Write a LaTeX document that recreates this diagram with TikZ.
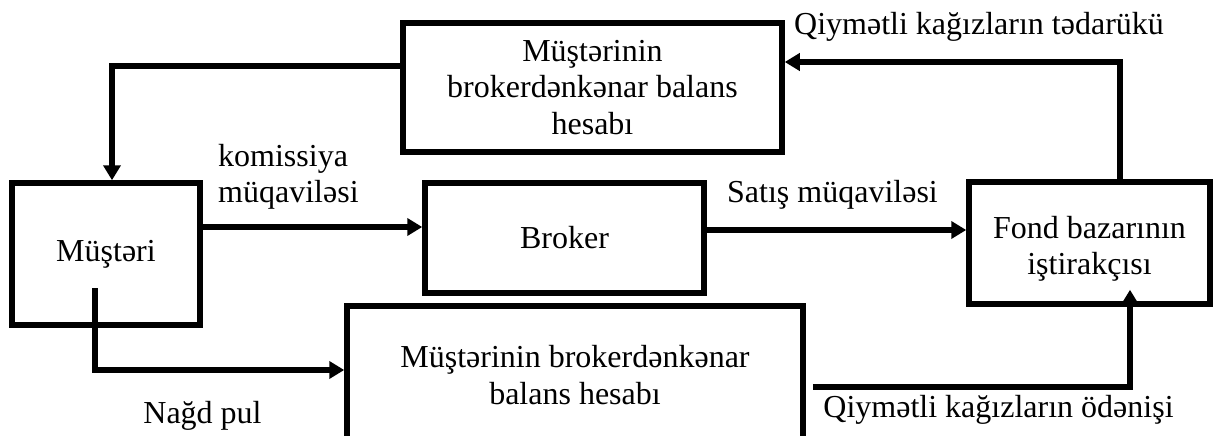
\documentclass[tikz,border=0pt]{standalone}
\usepackage{fontspec}
\setmainfont{Liberation Serif}
\usetikzlibrary{arrows.meta}
\begin{document}
\begin{tikzpicture}[x=1pt,y=-1pt,
  font=\fontsize{32}{36.5}\selectfont,
  box/.style={draw=black,line width=5.5pt,rectangle,inner sep=0pt,align=center},
  conn/.style={draw=black,line width=5.5pt,-{Triangle[length=15pt,width=17pt]}},
  lbl/.style={inner sep=0pt}]
\useasboundingbox (0,0) rectangle (1213,436);
\clip (0,0) rectangle (1213,436);
\fill[white] (0,0) rectangle (1213,436);
% boxes
\node[box,minimum width=379pt,minimum height=129pt] (top) at (592.5,87.5)
  {Müştərinin\\brokerdənkənar balans\\hesabı};
\node[box,minimum width=188pt,minimum height=142pt] (mus) at (106,254) {Müştəri};
\node[box,minimum width=279pt,minimum height=110pt] (broker) at (564.5,238) {Broker};
\node[box,minimum width=241pt,minimum height=122pt] (fond) at (1089.5,243)
  {\rule{0pt}{34pt}Fond bazarının\\iştirakçısı};
\node[box,minimum width=456pt,minimum height=138pt] (bot) at (575,375)
  {Müştərinin brokerdənkənar\\balans hesabı};
% connectors
\draw[conn] ([yshift=21.5pt]top.west) -| ([xshift=6pt]mus.north);
\draw[conn] ([yshift=27pt]mus.east) -- ([yshift=27pt]mus.east -| broker.west);
\draw[conn] ([yshift=8pt]broker.east) -- ([yshift=8pt]broker.east -| fond.west);
\draw[conn] ([xshift=30.5pt]fond.north) |- ([yshift=25.5pt]top.east);
\draw[conn] ([xshift=-11pt,yshift=-34pt]mus.center) |- ([yshift=5pt]bot.west);
\draw[conn] ([xshift=7pt,yshift=-12pt]bot.east) -| ([xshift=40.5pt,yshift=17pt]fond.south);
% labels
\node[lbl,anchor=north west,align=left] (lkom) at (218,144) {komissiya\\müqaviləsi};
\node[lbl,anchor=base] (lsat) at (832.5,202) {Satış müqaviləsi};
\node[lbl,anchor=base] (lted) at (979,35) {Qiymətli kağızların tədarükü};
\node[lbl,anchor=base] (lnag) at (202.5,423) {Nağd pul};
\node[lbl,anchor=base] (lode) at (998.5,417) {Qiymətli kağızların ödənişi};
\end{tikzpicture}
\end{document}
